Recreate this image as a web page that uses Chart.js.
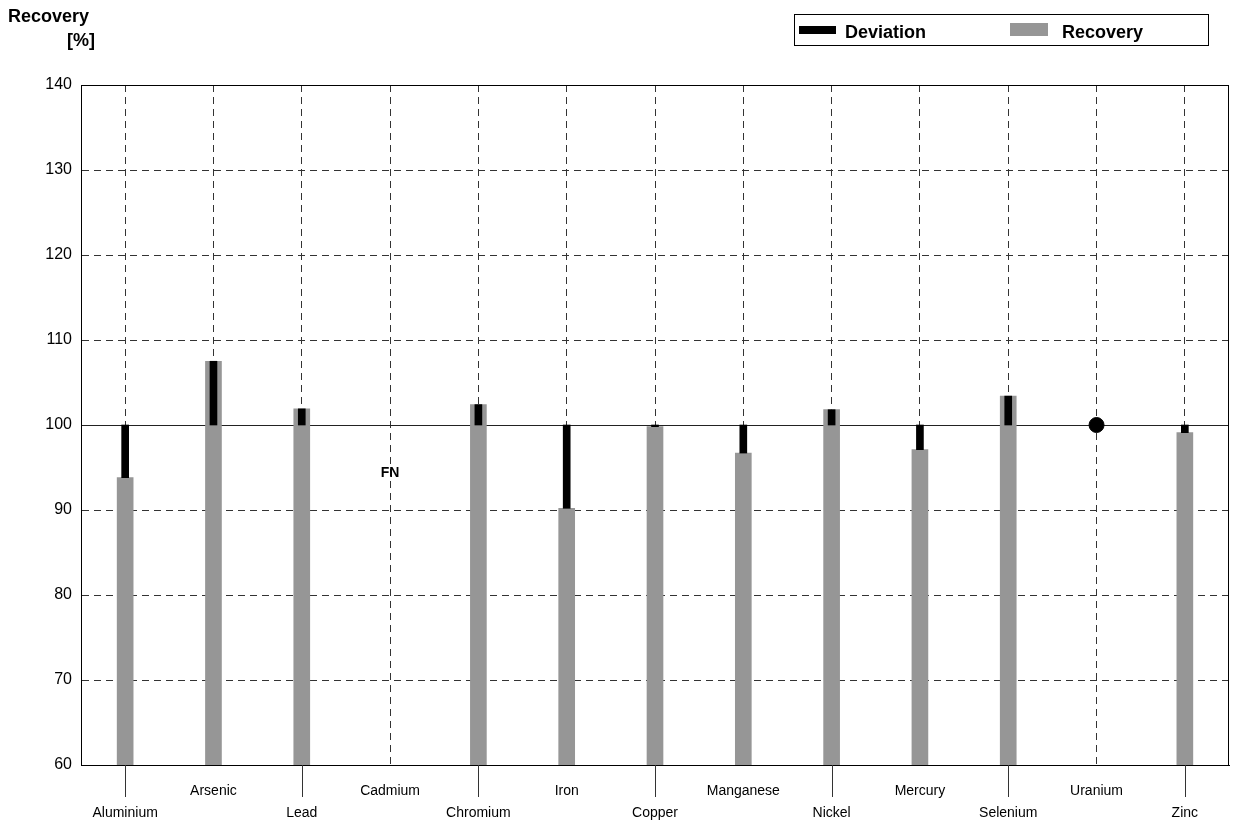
<!DOCTYPE html>
<html>
<head>
<meta charset="utf-8">
<script src="https://cdn.jsdelivr.net/npm/chart.js@4/dist/chart.umd.min.js"></script>
<style>
html,body{margin:0;padding:0;background:#fff;overflow:hidden;}
#wrap{width:1234px;height:826px;position:relative;overflow:hidden;}
</style>
</head>
<body>
<div id="wrap"><canvas id="c" width="1234" height="826"></canvas></div>
<script>
const categories = ['Aluminium','Arsenic','Lead','Cadmium','Chromium','Iron','Copper','Manganese','Nickel','Mercury','Selenium','Uranium','Zinc'];
const recovery = [93.8, 107.5, 101.9, null, 102.4, 90.2, 99.8, 96.7, 101.8, 97.1, 103.4, null, 99.1];
const referenceValue = 100;
const pointValues = [null, null, null, null, null, null, null, null, null, null, null, 100, null];
const notes = [null, null, null, 'FN', null, null, null, null, null, null, null, null, null];
const noteValues = [null, null, null, 94.3, null, null, null, null, null, null, null, null, null];
const yMin = 60, yMax = 140, yStep = 10;
const legendNames = ['Deviation', 'Recovery'];

const deviation = recovery.map(v => v == null ? null : [v, referenceValue]);
const labels = categories.map((c, i) => i % 2 === 0 ? ['', c] : [c]);

const FONT = "'Liberation Sans', Arial, sans-serif";

const deco = {
  id: 'deco',
  beforeDatasetsDraw(chart) {
    const {ctx, chartArea: a, scales: {y}} = chart;
    const yy = Math.round(y.getPixelForValue(referenceValue)) + 0.5;
    ctx.save();
    ctx.strokeStyle = '#222';
    ctx.lineWidth = 1;
    ctx.beginPath(); ctx.moveTo(a.left, yy); ctx.lineTo(a.right, yy); ctx.stroke();
    ctx.restore();
  },
  afterDraw(chart) {
    const {ctx, chartArea: a, scales: {x, y}} = chart;
    ctx.save();
    ctx.strokeStyle = '#000';
    ctx.lineWidth = 1;
    ctx.strokeRect(Math.round(a.left) + 0.5, Math.round(a.top) + 0.5, Math.round(a.right - a.left) - 1, Math.round(a.bottom - a.top));
    ctx.strokeStyle = '#333';
    categories.forEach((c, i) => {
      if (i % 2 === 0) {
        const px = Math.round(x.getPixelForValue(i)) + 0.5;
        ctx.beginPath(); ctx.moveTo(px, a.bottom); ctx.lineTo(px, a.bottom + 32); ctx.stroke();
      }
    });
    ctx.fillStyle = '#000';
    ctx.font = "bold 14px " + FONT;
    ctx.textAlign = 'center';
    ctx.textBaseline = 'middle';
    notes.forEach((n, i) => {
      if (n) ctx.fillText(n, x.getPixelForValue(i), y.getPixelForValue(noteValues[i]));
    });
    ctx.font = "bold 18px " + FONT;
    ctx.textAlign = 'left';
    ctx.textBaseline = 'middle';
    ctx.fillText('Recovery', 8, 17);
    ctx.textAlign = 'right';
    ctx.fillText('[%]', 95, 41);
    ctx.textAlign = 'left';
    ctx.strokeStyle = '#000';
    ctx.strokeRect(794.5, 14.5, 414, 31);
    ctx.fillStyle = '#000';
    ctx.fillRect(799, 26, 37, 8);
    ctx.fillStyle = '#969696';
    ctx.fillRect(1010, 23, 38, 13);
    ctx.fillStyle = '#000';
    ctx.font = "bold 18px " + FONT;
    ctx.fillText(legendNames[0], 845, 33);
    ctx.fillText(legendNames[1], 1062, 33);
    ctx.restore();
  }
};

new Chart(document.getElementById('c'), {
  data: {
    labels: labels,
    datasets: [
      {
        type: 'line',
        label: 'Reference',
        data: pointValues,
        showLine: false,
        pointRadius: 7.5,
        pointHoverRadius: 7.5,
        pointBackgroundColor: '#000',
        pointBorderColor: '#000',
        order: 0
      },
      {
        type: 'bar',
        label: legendNames[0],
        data: deviation,
        backgroundColor: '#000',
        barThickness: 7,
        grouped: false,
        order: 1
      },
      {
        type: 'bar',
        label: legendNames[1],
        data: recovery.map(v => v == null ? null : [yMin, v]),
        backgroundColor: '#969696',
        barThickness: 16,
        grouped: false,
        order: 2
      }
    ]
  },
  options: {
    responsive: false,
    animation: false,
    devicePixelRatio: 1,
    layout: { autoPadding: false, padding: { top: 85, right: 5, left: 0, bottom: 0 } },
    plugins: { legend: { display: false }, tooltip: { enabled: false }, title: { display: false } },
    scales: {
      x: {
        type: 'category',
        offset: true,
        grid: { offset: false, color: '#333', drawTicks: false, lineWidth: 1 },
        border: { display: true, color: '#000', dash: [7, 5] },
        ticks: { color: '#000', font: { family: FONT, size: 14, lineHeight: 1.57 }, padding: 15, maxRotation: 0, autoSkip: false },
        afterFit(s) { s.height = 61; s.paddingLeft = 0; s.paddingRight = 0; }
      },
      y: {
        min: yMin, max: yMax,
        grid: { color: '#333', drawTicks: false, lineWidth: 1 },
        border: { display: true, color: '#000', dash: [7, 5] },
        ticks: { stepSize: yStep, color: '#000', font: { family: FONT, size: 16 }, padding: 9 },
        afterFit(s) { s.width = 81; s.paddingLeft = 0; s.paddingRight = 0; s.paddingTop = 0; s.paddingBottom = 0; }
      }
    }
  },
  plugins: [deco]
});
</script>
</body>
</html>
